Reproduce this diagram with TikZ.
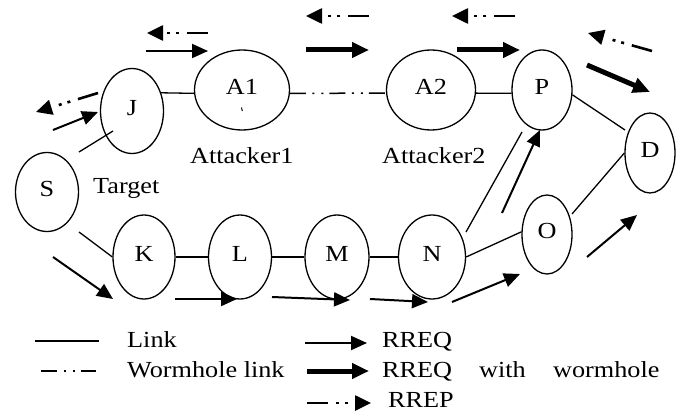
\documentclass[tikz,border=0pt]{standalone}
\usepackage{fontspec}
\setmainfont{Liberation Serif}[FakeStretch=1.14]
\usetikzlibrary{arrows.meta,shapes.geometric}
\tikzset{
  nd/.style={draw, ellipse, line width=1.3pt, inner sep=0pt, text depth=7pt},
  lnk/.style={line width=1.3pt},
  worm/.style={line width=1.5pt, dash pattern=on 16pt off 6.5pt on 2pt off 7pt on 2pt off 6pt},
  rreq/.style={line width=2pt, -{Triangle[length=16pt,width=14pt]}},
  rreqw/.style={line width=5pt, -{Triangle[length=17pt,width=15pt]}},
  rrep/.style={line width=2.6pt, dash pattern=on 21pt off 8pt on 3pt off 6pt on 3pt off 30pt, -{Triangle[length=16pt,width=15pt]}},
  txt/.style={inner sep=0pt, anchor=base west},
}
\begin{document}
\begin{tikzpicture}[x=1pt,y=-1pt,font=\fontsize{23pt}{27pt}\selectfont]
\fill[white] (0,0) rectangle (683,412);
\useasboundingbox (0,0) rectangle (683,412);

% nodes
\node[nd, minimum width=63pt, minimum height=79pt] (S)  at (47,192)  {S};
\node[nd, minimum width=63pt, minimum height=85pt] (J)  at (132,111) {J};
\node[nd, minimum width=95pt, minimum height=80pt] (A1) at (242,90)  {A1};
\node[nd, minimum width=89pt, minimum height=80pt] (A2) at (431,90)  {A2};
\node[nd, minimum width=60pt, minimum height=80pt] (P)  at (542,90)  {P};
\node[nd, minimum width=50pt, minimum height=80pt] (D)  at (650,153) {D};
\node[nd, minimum width=62pt, minimum height=84pt] (K)  at (144,257) {K};
\node[nd, minimum width=63pt, minimum height=84pt] (L)  at (240,257) {L};
\node[nd, minimum width=64pt, minimum height=84pt] (M)  at (337,257) {M};
\node[nd, minimum width=67pt, minimum height=84pt] (N)  at (432,257) {N};
\node[nd, minimum width=50pt, minimum height=79pt] (O)  at (547,234.5) {O};
\draw[line width=1pt] (241.5,107.5) -- (242.3,111);

% labels
\node[txt] (t1) at (190,163) {Attacker1};
\node[txt] (t2) at (382,163) {Attacker2};
\node[txt] (t3) at (93,193) {Target};

% free link ends
\coordinate (sj1) at (79,152);
\coordinate (sj2) at (113,131);
\coordinate (sk1) at (79,232);
\coordinate (np1) at (466,232);
\coordinate (np2) at (522,132);
\coordinate (od1) at (572,214);
\coordinate (pd2) at (625,130);

% links
\draw[lnk] (sj1) -- (sj2);
\draw[lnk] (sk1) -- (K.west);
\draw[lnk] (J.32) -- (A1.184);
\draw[worm] (A1.-4) -- (A2.184);
\draw[lnk] (A2.-4) -- (P.186);
\draw[lnk] (P.-9) -- (pd2);
\draw[lnk] (K.east) -- (L.west);
\draw[lnk] (L.east) -- (M.west);
\draw[lnk] (M.east) -- (N.west);
\draw[lnk] (N.east) -- (O.174);
\draw[lnk] (np1) -- (np2);
\draw[lnk] (od1) -- (D.west);

% RREQ arrows
\coordinate (a1s) at (53,130);  \coordinate (a1e) at (98,112);
\coordinate (a2s) at (146,51);  \coordinate (a2e) at (208,51);
\coordinate (a3s) at (53,257);  \coordinate (a3e) at (113,299);
\coordinate (a4s) at (175,299); \coordinate (a4e) at (237,299);
\coordinate (a5s) at (272,297); \coordinate (a5e) at (350,300);
\coordinate (a6s) at (370,299); \coordinate (a6e) at (428,302);
\coordinate (a7s) at (452,302); \coordinate (a7e) at (520,274);
\coordinate (a8s) at (502,213); \coordinate (a8e) at (540,130);
\coordinate (a9s) at (587,257); \coordinate (a9e) at (637,215);
\foreach \i in {1,...,9} {\draw[rreq] (a\i s) -- (a\i e);}

% RREQ with wormhole
\coordinate (w1s) at (306,50); \coordinate (w1e) at (369,50);
\coordinate (w2s) at (457,50); \coordinate (w2e) at (520,50);
\coordinate (w3s) at (587,65); \coordinate (w3e) at (650,92);
\foreach \i in {1,2,3} {\draw[rreqw] (w\i s) -- (w\i e);}

% RREP
\coordinate (r1s) at (98,93);   \coordinate (r1e) at (36,112);
\coordinate (r2s) at (208,33);  \coordinate (r2e) at (147,33);
\coordinate (r3s) at (369,16);  \coordinate (r3e) at (306,16);
\coordinate (r4s) at (515,16);  \coordinate (r4e) at (452,16);
\coordinate (r5s) at (652,51);  \coordinate (r5e) at (588,33);
\foreach \i in {1,...,5} {\draw[rrep] (r\i s) -- (r\i e);}

% legend
\coordinate (g1s) at (35,341);  \coordinate (g1e) at (99,341);
\coordinate (g2s) at (41,371);  \coordinate (g2e) at (96,371);
\coordinate (g3s) at (305,343); \coordinate (g3e) at (367,343);
\coordinate (g4s) at (307,371); \coordinate (g4e) at (369,371);
\coordinate (g5s) at (307,403); \coordinate (g5e) at (371,403);
\draw[lnk] (g1s) -- (g1e);
\draw[worm] (g2s) -- (g2e);
\draw[rreq] (g3s) -- (g3e);
\draw[rreqw] (g4s) -- (g4e);
\draw[rrep] (g5s) -- (g5e);
\node[txt] (l1) at (127,347) {Link};
\node[txt] (l2) at (127,377) {Wormhole link};
\node[txt] (l3) at (382,347) {RREQ};
\node[txt] (l4) at (382,377) {RREQ};
\node[txt] (l5) at (479,377) {with};
\node[txt] (l6) at (553,377) {wormhole};
\node[txt] (l7) at (388,407) {RREP};
\end{tikzpicture}
\end{document}
